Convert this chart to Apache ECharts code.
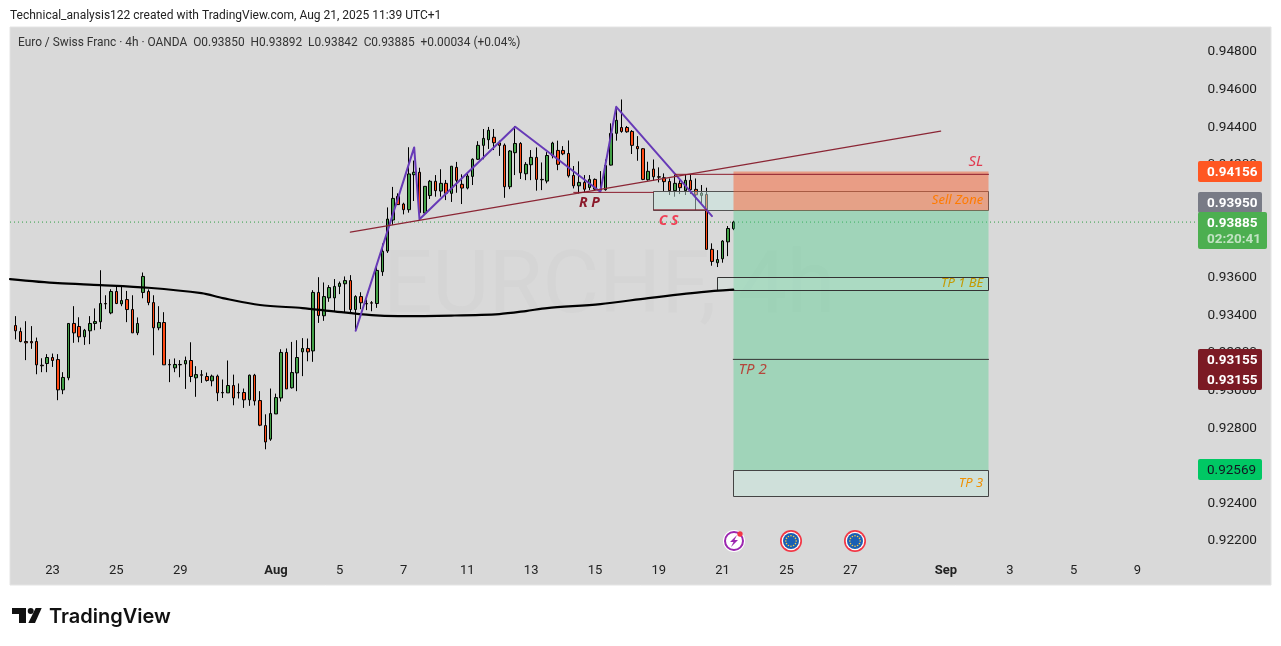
<!DOCTYPE html>
<html><head><meta charset="utf-8">
<style>html,body{margin:0;padding:0;background:#fff}#c{width:1281px;height:646px}</style>
<script src="https://cdn.jsdelivr.net/npm/echarts@6/dist/echarts.min.js"></script>
</head><body><div id="c"></div>
<script>
const opens=[0.93335,0.93303,0.93250,0.93250,0.93250,0.93124,0.93133,0.93165,0.93154,0.92993,
0.93057,0.93346,0.93330,0.93275,0.93307,0.93346,0.93355,0.93452,0.93402,0.93516,
0.93450,0.93473,0.93420,0.93296,0.93511,0.93516,0.93457,0.93323,0.93351,0.93128,
0.93110,0.93128,0.93131,0.93149,0.93057,0.93073,0.93064,0.93041,0.93066,0.92979,
0.92977,0.93016,0.92979,0.92979,0.92940,0.93071,0.92936,0.92803,0.92731,0.92865,
0.92950,0.93192,0.93004,0.93083,0.93195,0.93213,0.93200,0.93511,0.93387,0.93482,
0.93482,0.93543,0.93557,0.93574,0.93420,0.93489,0.93452,0.93456,0.93452,0.93621,
0.93731,0.93896,0.94022,0.93981,0.93951,0.94137,0.94150,0.93933,0.94026,0.94102,
0.94050,0.94091,0.94038,0.94176,0.94086,0.94066,0.94128,0.94219,0.94293,0.94323,
0.94336,0.94306,0.94294,0.94073,0.94254,0.94303,0.94142,0.94190,0.94229,0.94112,
0.94103,0.94238,0.94266,0.94266,0.94250,0.94133,0.94078,0.94096,0.94069,0.94112,
0.94060,0.94057,0.94188,0.94357,0.94388,0.94388,0.94367,0.94287,0.94275,0.94110,
0.94167,0.94126,0.94121,0.94101,0.94052,0.94091,0.94052,0.94107,0.94059,0.94027,
0.94032,0.93740,0.93669,0.93690,0.93780,0.93850];
const closes=[0.93307,0.93250,0.93243,0.93243,0.93126,0.93121,0.93165,0.93149,0.92993,0.93059,
0.93346,0.93296,0.93275,0.93310,0.93346,0.93356,0.93452,0.93450,0.93516,0.93452,
0.93468,0.93420,0.93296,0.93346,0.93596,0.93457,0.93323,0.93351,0.93126,0.93126,
0.93128,0.93126,0.93149,0.93064,0.93074,0.93071,0.93043,0.93066,0.92977,0.92977,
0.93016,0.92950,0.92977,0.92940,0.93071,0.92934,0.92805,0.92716,0.92867,0.92952,
0.93192,0.92998,0.93085,0.93165,0.93213,0.93195,0.93511,0.93388,0.93489,0.93537,
0.93543,0.93559,0.93574,0.93420,0.93489,0.93456,0.93450,0.93454,0.93628,0.93730,
0.93901,0.94011,0.93978,0.93951,0.94141,0.94150,0.93935,0.94075,0.94102,0.94052,
0.94091,0.94038,0.94182,0.94107,0.94066,0.94130,0.94219,0.94293,0.94330,0.94373,
0.94307,0.94293,0.94073,0.94263,0.94303,0.94147,0.94192,0.94229,0.94112,0.94110,
0.94239,0.94305,0.94192,0.94248,0.94131,0.94078,0.94096,0.94060,0.94112,0.94060,
0.94055,0.94186,0.94357,0.94426,0.94367,0.94365,0.94293,0.94275,0.94112,0.94155,
0.94126,0.94124,0.94100,0.94052,0.94091,0.94068,0.94107,0.94057,0.94030,0.94039,
0.93740,0.93676,0.93686,0.93784,0.93851,0.93885];
const lows=[0.93261,0.93246,0.93151,0.93211,0.93076,0.93087,0.93087,0.93115,0.92938,0.92970,
0.93044,0.93243,0.93246,0.93232,0.93236,0.93310,0.93316,0.93422,0.93395,0.93449,
0.93438,0.93353,0.93296,0.93284,0.93480,0.93443,0.93177,0.93310,0.93126,0.93034,
0.93087,0.93060,0.92998,0.93034,0.92956,0.93030,0.93037,0.93012,0.92933,0.92950,
0.92977,0.92911,0.92947,0.92897,0.92908,0.92910,0.92800,0.92677,0.92722,0.92865,
0.92931,0.92998,0.93000,0.92986,0.93066,0.93145,0.93142,0.93349,0.93360,0.93461,
0.93408,0.93502,0.93402,0.93406,0.93307,0.93422,0.93417,0.93411,0.93429,0.93599,
0.93721,0.93870,0.93978,0.93926,0.93935,0.93997,0.93900,0.93923,0.94008,0.94020,
0.94020,0.94002,0.93992,0.94041,0.93981,0.94059,0.94082,0.94215,0.94219,0.94274,
0.94268,0.94237,0.94014,0.94060,0.94135,0.94114,0.94108,0.94108,0.94052,0.94055,
0.94091,0.94224,0.94161,0.94241,0.94122,0.94064,0.94037,0.94043,0.94055,0.94055,
0.94050,0.94052,0.94186,0.94318,0.94360,0.94360,0.94247,0.94211,0.94108,0.94105,
0.94105,0.94096,0.94050,0.94029,0.94020,0.94034,0.94029,0.94034,0.93949,0.93984,
0.93740,0.93653,0.93646,0.93669,0.93704,0.93842];
const highs=[0.93385,0.93324,0.93358,0.93332,0.93271,0.93161,0.93183,0.93186,0.93183,0.93087,
0.93346,0.93438,0.93379,0.93317,0.93385,0.93426,0.93629,0.93496,0.93528,0.93541,
0.93541,0.93519,0.93496,0.93378,0.93617,0.93527,0.93496,0.93438,0.93406,0.93156,
0.93160,0.93151,0.93170,0.93246,0.93119,0.93098,0.93085,0.93074,0.93074,0.93048,
0.93149,0.93074,0.93027,0.93000,0.93074,0.93078,0.92986,0.92863,0.93000,0.92973,
0.93209,0.93213,0.93248,0.93257,0.93268,0.93266,0.93523,0.93592,0.93564,0.93550,
0.93582,0.93569,0.93596,0.93603,0.93496,0.93512,0.93473,0.93465,0.93661,0.93771,
0.93963,0.94072,0.94038,0.93988,0.94283,0.94212,0.94174,0.94075,0.94109,0.94135,
0.94166,0.94109,0.94182,0.94205,0.94139,0.94144,0.94224,0.94315,0.94380,0.94391,
0.94380,0.94318,0.94303,0.94268,0.94396,0.94310,0.94204,0.94268,0.94282,0.94202,
0.94257,0.94312,0.94318,0.94289,0.94319,0.94183,0.94208,0.94135,0.94135,0.94117,
0.94156,0.94218,0.94410,0.94495,0.94537,0.94396,0.94374,0.94342,0.94278,0.94206,
0.94218,0.94176,0.94144,0.94117,0.94135,0.94108,0.94139,0.94139,0.94117,0.94082,
0.94068,0.93772,0.93736,0.93789,0.93864,0.93892];

const slotCount=224;
const firstCandleSlot=1;
const tickSlots=[8,20,32,50,62,74,86,98,110,122,134,146,158,176,188,200,212];
const tickLabels=['23','25','29','Aug','5','7','11','13','15','19','21','25','27','Sep','3','5','9'];
const priceTicks=[0.922,0.948,0.002];
const hiddenPriceTick='0.92600';

const maSlots=[0,9,17,26,36,40,47,55,60,68,73,83,92,97,101,111,120,130,136];
const maPrices=[0.93582,0.93560,0.93550,0.93536,0.93507,0.93481,0.93444,0.93428,0.93413,0.93390,0.93385,0.93388,0.93396,0.93412,0.93428,0.93449,0.93481,0.93513,0.93526];
const waveSlots=[65,76,77,95,111,114,132];
const wavePrices=[0.93307,0.94282,0.93900,0.94392,0.94046,0.94498,0.93917];
const trendSlots=[64,175];
const trendPrices=[0.93832,0.94369];
const lastPrice=0.93885;

const zoneSlots0=[121,136,136,133,136];
const zoneSlots1=[184,184,184,184,184];
const zoneTop=[0.94050,0.94156,0.93950,0.93593,0.92569];
const zoneBottom=[0.93950,0.93950,0.92569,0.93522,0.92433];
const segSlots0=[106,125,121,136];
const segSlots1=[121,184,131,184];
const segPrices=[0.94043,0.94139,0.93950,0.93155];

const noteTexts=['SL','Sell Zone','TP 1 BE','TP 2','TP 3','R P','C S'];
const noteSlots=[183,183,183,137,183,107,122];
const notePrices=[0.94204,0.94002,0.93561,0.93098,0.92497,0.93986,0.93890];

const badgePrices=['0.94156','0.93950','0.93885','0.93155','0.93155','0.92569'];
const countdown='02:20:41';

const F='"Noto Sans",sans-serif';
const zoneStyles=[
 {fill:'rgba(199,231,223,0.5)',stroke:'#555'},
 {fill:'rgba(249,97,49,0.5)',stroke:null},
 {fill:'rgba(75,205,137,0.4)',stroke:null},
 {fill:'rgba(205,235,225,0.25)',stroke:'#333'},
 {fill:'#cfe0da',stroke:'#444'}];
const segColors=['#8b1a2b','#8b1a2b','#8b1a2b','#333'];
const noteStyles=[
 {c:'#e0394f',a:'right',s:15},{c:'#ff7b00',a:'right',s:13},{c:'#c49a00',a:'right',s:13},
 {c:'#b5473b',a:'left',s:15},{c:'#f09000',a:'right',s:13},{c:'#8b1a2b',a:'left',s:14,w:'bold'},{c:'#ef3f55',a:'left',s:14,w:'bold'}];

const categories=Array.from({length:slotCount},(_,i)=>{const t=tickSlots.indexOf(i);return t<0?'':tickLabels[t];});
const pair=(xs,ys)=>xs.map((x,i)=>[x,ys[i]]);
const candleData=opens.map((o,i)=>[i+firstCandleSlot,o,closes[i],lows[i],highs[i]]);
const poly=(name,data,color,width,extra)=>Object.assign({type:'line',name,data,symbol:'none',showSymbol:false,silent:true,
  lineStyle:{color,width,cap:'round',join:'round'},animation:false,z:4},extra||{});

const series=[
 poly('last',[[0,lastPrice],[slotCount-1,lastPrice]],'#2f9e44',1,{z:1,lineStyle:{color:'#2f9e44',width:1,type:[1,3]}}),
 {type:'custom',name:'zones',z:3,silent:true,animation:false,clip:false,
  data:zoneSlots0.map((s,i)=>[s,zoneSlots1[i],zoneTop[i],zoneBottom[i]]),
  encode:{x:[0,1],y:[2,3]},
  renderItem(p,api){const a=api.coord([api.value(0),api.value(2)]),b=api.coord([api.value(1),api.value(3)]);
    const st=zoneStyles[p.dataIndex];
    return {type:'rect',shape:{x:Math.round(a[0])+.5,y:Math.round(a[1])+.5,width:Math.round(b[0]-a[0]),height:Math.round(b[1]-a[1])},
      style:{fill:st.fill,stroke:st.stroke,lineWidth:st.stroke?1:0}};}},
 {type:'candlestick',name:'EURCHF',z:2,data:candleData,barWidth:3,silent:true,animation:false,
  encode:{x:0,y:[1,2,3,4]},
  itemStyle:{color:'#43a047',color0:'#ff4a14',borderColor:'#000',borderColor0:'#000',borderColorDoji:'#000',borderWidth:1}},
 poly('MA',pair(maSlots,maPrices),'#000',2.2,{smooth:0.3}),
 poly('wave',pair(waveSlots,wavePrices),'#673ab7',2),
 poly('trend',pair(trendSlots,trendPrices),'#8b2635',1.2),
 ...segPrices.map((p,i)=>poly('seg'+i,[[segSlots0[i],p],[segSlots1[i],p]],segColors[i],1)),
 {type:'custom',name:'notes',z:6,silent:true,animation:false,clip:false,
  data:noteSlots.map((s,i)=>[s,notePrices[i]]),encode:{x:0,y:1},
  renderItem(p,api){const c=api.coord([api.value(0),api.value(1)]),st=noteStyles[p.dataIndex];
    return {type:'text',x:c[0],y:c[1],style:{text:noteTexts[p.dataIndex],fill:st.c,align:st.a,verticalAlign:'middle',
      font:`italic ${st.w||'normal'} ${st.s}px ${F}`}};}}
];

function badge(x,y,w,h,fill,lines){
  const kids=[{type:'rect',shape:{x,y,width:w,height:h,r:2},style:{fill},z:20}];
  lines.forEach(l=>kids.push({type:'text',x:x+9,y:l.y,z:21,style:{text:l.t,fill:l.c||'#fff',font:`${l.w||'bold'} 13.5px Roboto`,verticalAlign:'middle'}}));
  return kids;
}
const euFlag=cx=>{const cy=541,k=[
 {type:'circle',shape:{cx,cy,r:11},style:{fill:'#f23645'},z:20},
 {type:'circle',shape:{cx,cy,r:9.3},style:{fill:'#fff'},z:20},
 {type:'circle',shape:{cx,cy,r:8},style:{fill:'#1a5fb4'},z:20}];
 for(let i=0;i<12;i++){const a=i*Math.PI/6;k.push({type:'circle',shape:{cx:cx+5.2*Math.cos(a),cy:cy+5.2*Math.sin(a),r:.8},style:{fill:'#f6c945'},z:21});}
 return k;};
const graphics=[
 {type:'rect',shape:{x:10,y:27,width:1261,height:558},style:{fill:'#d9d9d9',stroke:'#e4e4e4',lineWidth:1},z:-10},
 {type:'text',x:383,y:290,z:-9,style:{text:'EURCHF, 4h',fill:'#d5d5d5',font:'87px Roboto',verticalAlign:'middle'}},
 {type:'text',x:10,y:16,style:{text:'Technical_analysis122 created with TradingView.com, Aug 21, 2025 11:39 UTC+1',fill:'#222',font:'12px Roboto',verticalAlign:'middle'}},
 {type:'text',x:18,y:43,style:{text:'Euro / Swiss Franc · 4h · OANDA  O0.93850  H0.93892  L0.93842  C0.93885  +0.00034 (+0.04%)',fill:'#333',font:'11.9px Roboto',verticalAlign:'middle'}},
 ...badge(1198,161,64,21,'#ff5722',[{t:badgePrices[0],y:172.5}]),
 ...badge(1198,192,64,21,'#787b86',[{t:badgePrices[1],y:203.5}]),
 ...badge(1198,212,69,37,'#4caf50',[{t:badgePrices[2],y:223.5},{t:countdown,y:239.5,c:'rgba(255,255,255,.65)'}]),
 ...badge(1198,349,64,41,'#7b1a24',[{t:badgePrices[3],y:360.5},{t:badgePrices[4],y:380.5}]),
 ...badge(1198,459,64,21,'#00c864',[{t:badgePrices[5],y:470.5,c:'#131722',w:'normal'}]),
 {type:'circle',shape:{cx:734,cy:541,r:11},style:{fill:'#fff'},z:20},
 {type:'circle',shape:{cx:734,cy:541,r:9},style:{fill:'none',stroke:'#9c27b0',lineWidth:2},z:21},
 {type:'polygon',shape:{points:[[737,535],[730,542],[733.5,542],[731,547],[738,540],[734.5,540]]},style:{fill:'#9c27b0'},z:21},
 {type:'circle',shape:{cx:740,cy:534,r:2.7},style:{fill:'#f23645'},z:22},
 ...euFlag(791),...euFlag(855),
 {type:'polygon',shape:{points:[[12,608],[26,608],[26,623],[19,623],[19,614],[12,614]]},style:{fill:'#111'}},
 {type:'circle',shape:{cx:30.7,cy:611,r:3},style:{fill:'#111'}},
 {type:'polygon',shape:{points:[[35.7,608],[41.7,608],[35,623],[28.3,623]]},style:{fill:'#111'}},
 {type:'text',x:49,y:616.5,style:{text:'TradingView',fill:'#111',font:'600 20px "Inter"',verticalAlign:'middle'}}
];

const chart=echarts.init(document.getElementById('c'),null,{renderer:'canvas'});
chart.setOption({
 animation:false,backgroundColor:'#fff',
 grid:{left:7.35,top:50,width:slotCount*5.318,bottom:107,containLabel:false},
 xAxis:{type:'category',data:categories,boundaryGap:true,axisLine:{show:false},axisTick:{show:false},splitLine:{show:false},
  axisLabel:{interval:0,hideOverlap:false,margin:25,fontFamily:'Roboto',fontSize:13,color:'#222',
   formatter:v=>(/^[A-Z]/.test(v)?'{b|'+v+'}':v),rich:{b:{fontWeight:'bold',fontFamily:'Roboto',fontSize:13,color:'#222'}}}},
 yAxis:{type:'value',position:'right',min:priceTicks[0],max:priceTicks[1],interval:priceTicks[2],scale:true,
  axisLine:{show:false},axisTick:{show:false},splitLine:{show:false},
  axisLabel:{margin:9,fontFamily:'Roboto',fontSize:13.6,color:'#222',
   formatter:v=>{const s=v.toFixed(5);return s===hiddenPriceTick?'':'{a|'+s+'}';},
   rich:{a:{fontFamily:'Roboto',fontSize:13.6,color:'#222',padding:[4,0,0,0]}}}},
 graphic:{elements:graphics},
 series
});
</script></body></html>
